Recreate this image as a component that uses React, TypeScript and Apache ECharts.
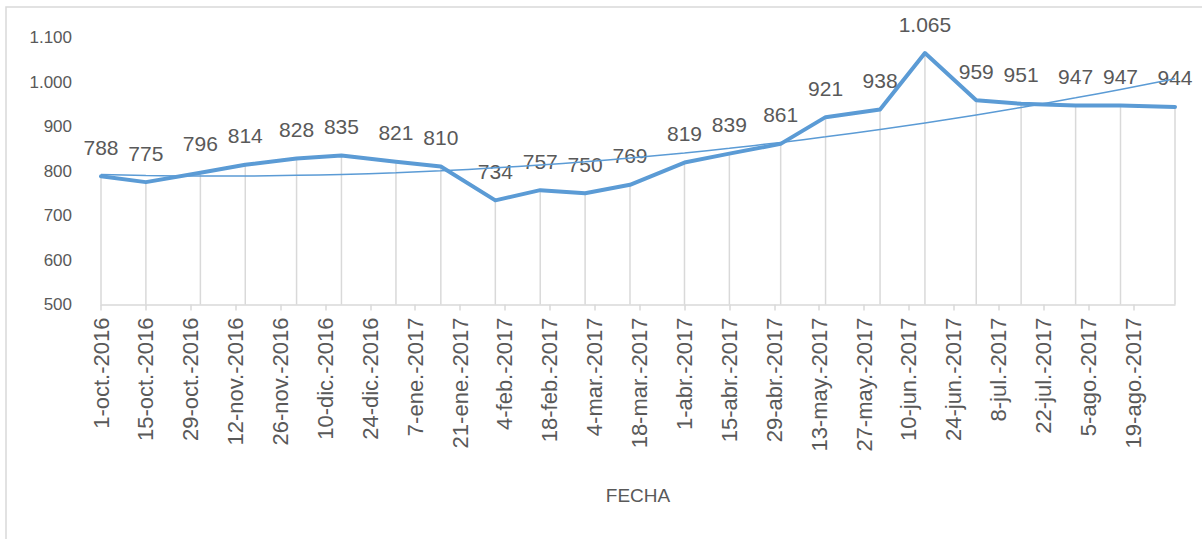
import React, { useEffect, useRef } from "react";
import * as echarts from "echarts";

// Data point dates (ISO) and values
const dates = [
  "2016-10-01", "2016-10-15", "2016-11-01", "2016-11-15", "2016-12-01", "2016-12-15",
  "2017-01-01", "2017-01-15", "2017-02-01", "2017-02-15", "2017-03-01", "2017-03-15",
  "2017-04-01", "2017-04-15", "2017-05-01", "2017-05-15", "2017-06-01", "2017-06-15",
  "2017-07-01", "2017-07-15", "2017-08-01", "2017-08-15", "2017-09-01",
];
const values = [
  788, 775, 796, 814, 828, 835, 821, 810, 734, 757, 750, 769,
  819, 839, 861, 921, 938, 1065, 959, 951, 947, 947, 944,
];
// X tick labels (every 14 days from the first date)
const tickLabels = [
  "1-oct.-2016", "15-oct.-2016", "29-oct.-2016", "12-nov.-2016", "26-nov.-2016",
  "10-dic.-2016", "24-dic.-2016", "7-ene.-2017", "21-ene.-2017", "4-feb.-2017",
  "18-feb.-2017", "4-mar.-2017", "18-mar.-2017", "1-abr.-2017", "15-abr.-2017",
  "29-abr.-2017", "13-may.-2017", "27-may.-2017", "10-jun.-2017", "24-jun.-2017",
  "8-jul.-2017", "22-jul.-2017", "5-ago.-2017", "19-ago.-2017",
];
const TICK_STEP_DAYS = 14;
const Y_MIN = 500;
const Y_MAX = 1100;
const Y_STEP = 100;
const X_TITLE = "FECHA";

const toDay = (iso: string) => {
  const [y, m, d] = iso.split("-").map(Number);
  const [y0, m0, d0] = dates[0].split("-").map(Number);
  return Math.round((Date.UTC(y, m - 1, d) - Date.UTC(y0, m0 - 1, d0)) / 86400000);
};

const fmt = (v: number) => String(Math.round(v)).replace(/\B(?=(\d{3})+(?!\d))/g, ".");

// least squares quadratic (trendline like Excel's polynomial order 2)
function polyfit2(xs: number[], ys: number[]) {
  let s0 = 0, s1 = 0, s2 = 0, s3 = 0, s4 = 0, t0 = 0, t1 = 0, t2 = 0;
  xs.forEach((x, i) => {
    const y = ys[i];
    s0 += 1; s1 += x; s2 += x * x; s3 += x * x * x; s4 += x * x * x * x;
    t0 += y; t1 += x * y; t2 += x * x * y;
  });
  const A = [
    [s0, s1, s2, t0],
    [s1, s2, s3, t1],
    [s2, s3, s4, t2],
  ];
  for (let i = 0; i < 3; i++) {
    for (let k = i + 1; k < 3; k++) {
      const f = A[k][i] / A[i][i];
      for (let j = i; j < 4; j++) A[k][j] -= f * A[i][j];
    }
  }
  const c = [0, 0, 0];
  for (let i = 2; i >= 0; i--) {
    let s = A[i][3];
    for (let j = i + 1; j < 3; j++) s -= A[i][j] * c[j];
    c[i] = s / A[i][i];
  }
  return (x: number) => c[0] + c[1] * x + c[2] * x * x;
}

export default function App() {
  const ref = useRef<HTMLDivElement>(null);
  useEffect(() => {
    if (!ref.current) return;
    const chart = echarts.init(ref.current, undefined, { renderer: "svg" });
    const days = dates.map(toDay);
    const pts = days.map((d, i) => [d, values[i]]);
    const trendFn = polyfit2(days, values);
    const trend = days.map((d) => [d, trendFn(d)]);
    const tickVals = tickLabels.map((_, i) => i * TICK_STEP_DAYS);
    const blue = "#5b9bd5";
    const txt = "#595959";
    const font = "'Liberation Sans', Arial, sans-serif";

    chart.setOption({
      animation: false,
      backgroundColor: "#ffffff",
      graphic: [
        {
          type: "rect",
          shape: { x: 6, y: 7, width: 1220, height: 560 },
          style: { fill: "none", stroke: "#d9d9d9", lineWidth: 1.5 },
          silent: true,
          z: -10,
        },
      ],
      grid: { left: 101, right: 27, top: 37.5, bottom: 234.5, containLabel: false },
      xAxis: {
        type: "value",
        min: 0,
        max: days[days.length - 1],
        name: X_TITLE,
        nameLocation: "middle",
        nameGap: 181,
        nameTextStyle: { color: txt, fontSize: 19, fontFamily: font },
        axisLine: { show: true, lineStyle: { color: "#d9d9d9", width: 1.5 } },
        axisTick: {
          show: true,
          customValues: tickVals,
          length: 6,
          lineStyle: { color: "#d9d9d9", width: 1.5 },
        },
        axisLabel: {
          customValues: tickVals,
          rotate: 90,
          margin: 13,
          color: txt,
          fontSize: 22,
          fontFamily: font,
          formatter: (v: number) => {
            const idx = Math.round(v / TICK_STEP_DAYS);
            return Math.abs(v - idx * TICK_STEP_DAYS) < 1e-6 ? tickLabels[idx] ?? "" : "";
          },
        },
        splitLine: { show: false },
      },
      yAxis: {
        type: "value",
        min: Y_MIN,
        max: Y_MAX,
        interval: Y_STEP,
        axisLine: { show: false },
        axisTick: { show: false },
        splitLine: { show: false },
        axisLabel: {
          color: txt,
          fontSize: 17,
          fontFamily: font,
          margin: 29,
          formatter: (v: number) => fmt(v),
        },
      },
      series: [
        {
          type: "custom",
          data: pts,
          encode: { x: 0, y: 1 },
          silent: true,
          z: 1,
          renderItem: (params: any, api: any) => {
            const x = api.value(0);
            const y = api.value(1);
            const p1 = api.coord([x, y]);
            const p2 = api.coord([x, Y_MIN]);
            return {
              type: "line",
              shape: { x1: p1[0], y1: p1[1], x2: p2[0], y2: p2[1] },
              style: { stroke: "#d9d9d9", lineWidth: 1.5 },
            };
          },
        },
        {
          type: "line",
          data: pts,
          z: 3,
          symbol: "circle",
          symbolSize: 1,
          showSymbol: true,
          itemStyle: { color: blue },
          lineStyle: { color: blue, width: 4, join: "round", cap: "round" },
          label: {
            show: true,
            position: "top",
            distance: 18,
            color: txt,
            fontSize: 21,
            fontFamily: font,
            formatter: (p: any) => fmt(p.value[1]),
          },
          labelLayout: { hideOverlap: false },
        },
        {
          type: "line",
          data: trend,
          z: 4,
          symbol: "none",
          smooth: true,
          lineStyle: { color: blue, width: 1.5 },
          silent: true,
        },
      ],
    });
    return () => chart.dispose();
  }, []);
  return (
    <div
      ref={ref}
      style={{ position: "absolute", left: 0, top: 0, width: 1202, height: 539, background: "#fff" }}
    />
  );
}
